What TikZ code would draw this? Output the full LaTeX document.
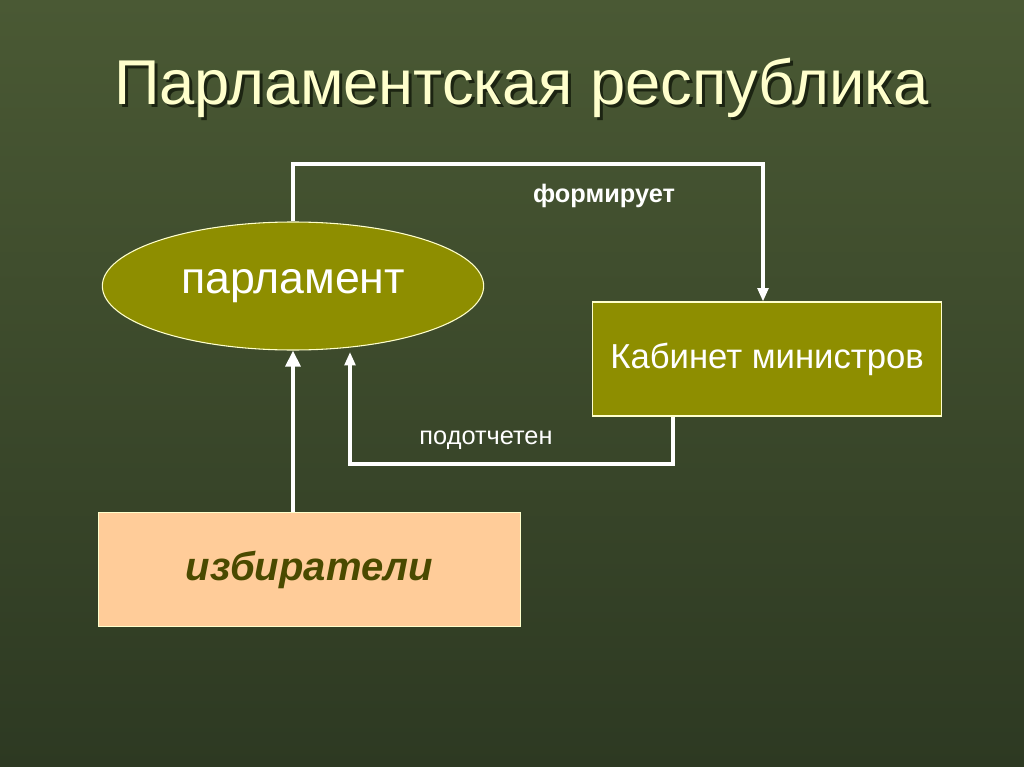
\documentclass[tikz,border=0pt]{standalone}
\usepackage{fontspec}
\setmainfont{Liberation Sans}
\usetikzlibrary{shapes.geometric,arrows.meta}
\definecolor{fonverh}{HTML}{4A5934}
\definecolor{fonniz}{HTML}{2D3922}
\definecolor{oliva}{HTML}{8E8E00}
\definecolor{persik}{HTML}{FFCC99}
\definecolor{krem}{HTML}{FFFFCC}
\definecolor{temnoliva}{HTML}{4A4A00}
\definecolor{ten}{HTML}{1C2412}
\newcommand{\stenyu}[1]{\makebox[0pt][l]{\hspace*{2.3pt}\raisebox{-2.3pt}{\color{ten}#1}}#1}
\begin{document}
\begin{tikzpicture}[x=0.75pt,y=-0.75pt,>={Triangle[length=10pt,width=8pt]}, line join=miter]
            \tikzset{
                blok/.style={draw=krem, line width=0.8pt, fill=oliva, text=white, inner sep=0pt},
                svyaz/.style={draw=white, line width=2.4pt},
                podpis/.style={text=white, font=\fontsize{19}{22}\selectfont}
            }
            \useasboundingbox (0,0) rectangle (1024,767);
            \shade[top color=fonverh, bottom color=fonniz] (0,0) rectangle (1024,767);
            % заголовок
            \node[text=krem, font=\fontsize{47.5}{54}\selectfont] (zag) at (521.5,89) {\stenyu{Парламентская республика}};
            % блоки
            \node[blok, ellipse, minimum width=286pt, minimum height=96pt, font=\fontsize{33.5}{38}\selectfont] (parl) at (293,286) {\raisebox{2pt}{парламент}};
            \node[blok, rectangle, minimum width=262pt, minimum height=85.5pt, font=\fontsize{26}{30}\selectfont] (kab) at (767,359) {Кабинет министров};
            \node[blok, rectangle, fill=persik, text=temnoliva, minimum width=316pt, minimum height=85pt, font=\fontsize{30}{36}\bfseries\itshape\selectfont] (izb) at (309.5,569.5) {избиратели};
            % связи
            \coordinate (v1) at (293,164);
            \coordinate (v2) at (763,164);
            \draw[svyaz, ->] (parl.north) -- (v1) -- (v2) -- (v2 |- kab.north);
            \coordinate (n1) at (673,464);
            \coordinate (n2) at (350,464);
            \draw[svyaz, ->] (n1 |- kab.south) -- (n1) -- (n2) -- (350,352);
            \draw[svyaz, ->, line width=3pt, >={Triangle[length=12pt,width=11pt]}] (izb.north -| parl.south) -- (parl.south);
            % подписи
            \node[podpis, font=\fontsize{19}{22}\bfseries\selectfont] (form) at (604,196) {формирует};
            \node[podpis] (podot) at (486,440) {подотчетен};
\end{tikzpicture}
\end{document}
